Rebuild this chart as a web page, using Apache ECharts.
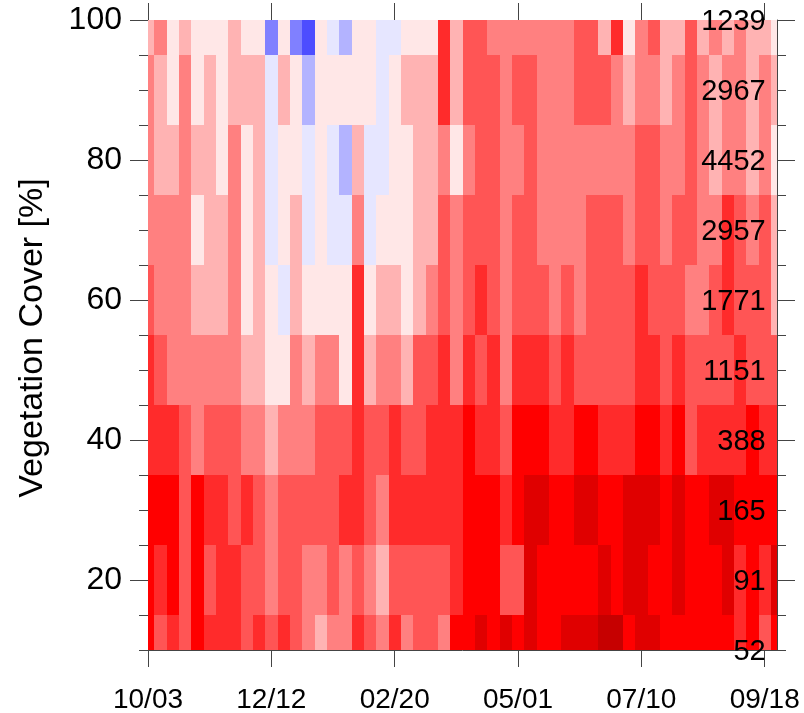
<!DOCTYPE html>
<html>
<head>
<meta charset="utf-8">
<style>html,body{margin:0;padding:0;background:#fff}#c{width:804px;height:713px}</style>
<script src="https://cdn.jsdelivr.net/npm/echarts@6/dist/echarts.min.js"></script>
</head>
<body>
<div id="c"></div>
<script>
// Column spacing in days, counted from 10/03
var stepDays = 7;
var tickDays = [0, 70, 140, 210, 280, 350];
var tickLabels = ['10/03', '12/12', '02/20', '05/01', '07/10', '09/18'];
var yMajor = [20, 40, 60, 80, 100];
var yMinor = [10, 15, 20, 25, 30, 35, 40, 45, 50, 55, 60, 65, 70, 75, 80, 85, 90, 95, 100];
var coverLevels = [100, 90, 80, 70, 60, 50, 40, 30, 20, 10];
var sampleCounts = ['1239', '2967', '4452', '2957', '1771', '1151', '388', '165', '91', '52'];
// Colour class per week: -4..-1 blues, 1..8 pale pink to dark red
var row100 = [2,3,1,2,1,1,1,2,1,1,-3,1,-3,-4,1,-1,-2,1,1,-1,-1,1,1,1,5,2,4,4,3,3,3,3,3,3,3,4,4,2,5,1,3,4,2,2,4,2,3,2,3,2,2,1];
var row90  = [3,2,1,3,1,2,1,2,2,2,-1,2,1,-2,1,1,1,1,1,-1,1,2,2,2,5,2,4,4,4,3,4,4,3,3,3,4,4,4,3,2,3,3,2,3,4,3,2,3,3,2,3,2];
var row80  = [3,2,2,3,2,2,1,3,1,2,-1,1,1,-1,1,-1,-2,2,-1,-1,1,1,2,2,3,1,3,4,4,3,3,4,3,3,3,3,3,3,3,3,4,4,3,3,4,3,2,3,3,2,3,1];
var row70  = [3,3,3,3,1,2,2,3,1,2,-1,1,2,-1,1,-1,-1,3,-1,1,1,1,2,2,4,3,4,4,4,3,4,4,3,3,3,3,4,4,4,3,4,4,3,4,4,3,3,5,4,3,4,2];
var row60  = [4,3,3,3,2,2,2,3,1,2,1,-1,2,1,1,1,1,5,1,2,2,1,2,3,4,3,4,5,4,3,4,4,4,3,4,3,4,4,4,4,5,4,4,4,3,3,4,5,4,4,4,2];
var row50  = [5,4,3,3,3,3,3,3,2,2,1,1,3,2,3,3,1,5,2,3,3,2,4,4,5,3,5,4,5,3,5,5,5,4,5,4,4,4,4,4,5,5,4,5,4,4,4,4,5,4,4,4];
var row40  = [5,5,5,4,3,4,4,4,3,3,2,3,3,3,4,4,4,5,4,4,5,4,4,5,5,5,6,5,5,4,6,6,6,5,5,6,6,5,5,5,6,6,5,6,4,5,5,5,5,6,5,5];
var row30  = [6,6,6,4,6,5,5,4,5,4,3,4,4,4,4,4,5,5,4,3,5,5,5,5,5,5,6,6,6,5,6,7,7,6,6,7,7,6,6,7,7,7,6,7,6,6,7,7,6,6,6,6];
var row20  = [6,5,6,4,6,4,5,5,4,4,3,4,4,3,3,4,3,4,3,2,4,4,4,4,4,5,6,6,6,4,4,7,6,6,6,6,6,7,6,7,7,6,6,7,6,6,6,7,5,6,5,7];
var row10  = [6,4,5,4,6,5,5,5,4,5,4,5,4,3,2,3,3,5,4,3,5,3,4,4,3,6,6,7,6,7,6,7,6,6,7,7,7,8,8,6,7,7,6,6,6,6,6,6,5,6,4,6];
var rows = [row100, row90, row80, row70, row60, row50, row40, row30, row20, row10];
var classValues = [-4, -3, -2, -1, 1, 2, 3, 4, 5, 6, 7, 8];
var classColors = ['#4d4dff', '#8080ff', '#b3b3ff', '#e6e6ff', '#ffe7e7', '#ffb3b3', '#ff8080', '#ff5555', '#ff2b2b', '#ff0000', '#e00000', '#c60000'];

var cells = [];
rows.forEach(function (row, r) {
  row.forEach(function (v, i) { cells.push([i * stepDays, coverLevels[r], v]); });
});
var counts = coverLevels.map(function (c, r) { return [350, c, sampleCounts[r]]; });

var FONT = '"Liberation Sans", Arial, sans-serif';
var INK = '#444';
var xMax = 51 * stepDays;
function lineAxis(show) { return { show: show, lineStyle: { color: INK, width: 1 } }; }
function tick(vals, len) { return { show: true, length: len, inside: false, customValues: vals, lineStyle: { color: INK, width: 1 } }; }

var chart = echarts.init(document.getElementById('c'), null, { renderer: 'canvas' });
chart.setOption({
  animation: false,
  backgroundColor: '#fff',
  grid: { left: 148, right: 27, top: 20, bottom: 63, containLabel: false, outerBoundsMode: 'none' },
  visualMap: {
    type: 'piecewise', show: false, dimension: 2, seriesIndex: 0,
    pieces: classValues.map(function (v, k) { return { value: v, color: classColors[k] }; })
  },
  xAxis: [
    { type: 'value', position: 'bottom', min: 0, max: xMax, splitLine: { show: false },
      axisLine: lineAxis(true), axisTick: tick(tickDays, 17),
      axisLabel: { customValues: tickDays, margin: 36, fontFamily: FONT, fontSize: 28, color: '#000',
        formatter: function (v) { return tickLabels[tickDays.indexOf(v)]; } } },
    { type: 'value', position: 'top', min: 0, max: xMax, splitLine: { show: false },
      axisLine: lineAxis(true), axisTick: tick(tickDays, 17), axisLabel: { show: false } }
  ],
  yAxis: [
    { type: 'value', position: 'left', min: 10, max: 100, splitLine: { show: false },
      axisLine: lineAxis(true), axisTick: tick(yMajor, 18),
      axisLabel: { customValues: yMajor, margin: 26, fontFamily: FONT, fontSize: 32, color: '#000' },
      name: 'Vegetation Cover [%]', nameLocation: 'middle', nameRotate: 90, nameGap: 98, nameMoveOverlap: false,
      nameTextStyle: { fontFamily: FONT, fontSize: 34, color: '#000', padding: [0, 6, 0, 0] } },
    { type: 'value', position: 'left', min: 10, max: 100, splitLine: { show: false },
      axisLine: lineAxis(false), axisTick: tick(yMinor, 9), axisLabel: { show: false } },
    { type: 'value', position: 'right', min: 10, max: 100, splitLine: { show: false },
      axisLine: lineAxis(true), axisTick: tick(yMajor, 18), axisLabel: { show: false } },
    { type: 'value', position: 'right', min: 10, max: 100, splitLine: { show: false },
      axisLine: lineAxis(false), axisTick: tick(yMinor, 9), axisLabel: { show: false } }
  ],
  series: [
    { type: 'custom', coordinateSystem: 'cartesian2d', clip: true, z: 1,
      encode: { x: 0, y: 1 }, data: cells,
      renderItem: function (params, api) {
        var x = api.value(0), y = api.value(1);
        var a = api.coord([x - stepDays / 2, y + 5]);
        var b = api.coord([x + stepDays / 2, y - 5]);
        var x0 = Math.round(a[0]), x1 = Math.round(b[0]), y0 = Math.round(a[1]), y1 = Math.round(b[1]);
        return { type: 'rect',
          shape: { x: x0, y: y0, width: x1 - x0, height: y1 - y0 },
          style: { fill: api.visual('color') } };
      } },
    { type: 'custom', coordinateSystem: 'cartesian2d', clip: false, z: 5, silent: true,
      encode: { x: 0, y: 1 }, data: counts,
      renderItem: function (params, api) {
        var p = api.coord([api.value(0), api.value(1)]);
        return { type: 'text', x: p[0] + 1, y: p[1] + 2,
          style: { text: sampleCounts[params.dataIndex], fill: '#000', align: 'right', verticalAlign: 'middle',
            font: '29px ' + FONT } };
      } }
  ]
});
</script>
</body>
</html>
